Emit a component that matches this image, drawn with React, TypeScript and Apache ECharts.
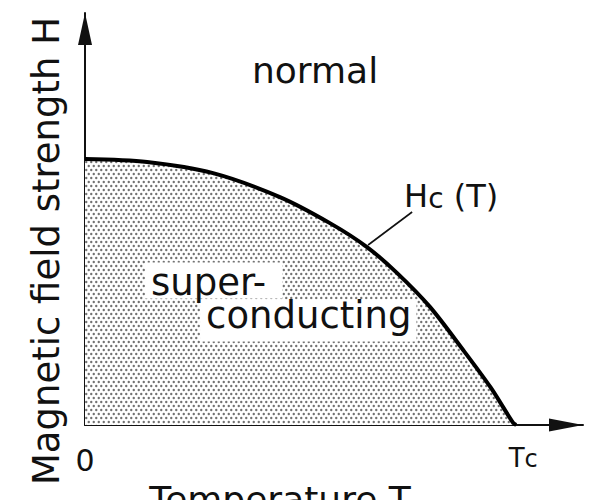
import { useEffect, useRef } from 'react';
import * as echarts from 'echarts';

// Critical-field curve H_c(T), normalised: T in units of T_c, H in units of H_c(0)
const tempT = [0, 0.144, 0.297, 0.452, 0.568, 0.654, 0.724, 0.8, 0.877, 0.94, 0.993, 1.0];
const fieldH = [1.0, 0.989, 0.947, 0.857, 0.759, 0.669, 0.571, 0.444, 0.282, 0.143, 0.008, 0];

const xTickValues = [0, 1];
const xTickLabels = ['0', 'T|c'];
const xAxisName = 'Temperature T';
const yAxisName = 'Magnetic field strength H';
const regionNormal = 'normal';
const regionSuper = ['super-', 'conducting'];
const curveName = ['H', 'c', ' (T)'];

const FONT = 'DejaVu Sans';
const INK = '#111111';

export default function App() {
  const ref = useRef<HTMLDivElement>(null);

  useEffect(() => {
    const el = ref.current;
    if (!el) return;
    const chart = echarts.init(el, null, { renderer: 'svg' });

    // stipple tile for the superconducting region (staggered dot rows)
    const TW = 5;
    const TH = 8;
    const tile = document.createElement('canvas');
    tile.width = TW;
    tile.height = TH;
    const ctx = tile.getContext('2d');
    if (ctx) {
      ctx.fillStyle = '#ffffff';
      ctx.fillRect(0, 0, TW, TH);
      ctx.fillStyle = '#727272';
      ctx.beginPath();
      ctx.arc(1.25, 2, 1.2, 0, Math.PI * 2);
      ctx.fill();
      ctx.beginPath();
      ctx.arc(3.75, 6, 1.2, 0, Math.PI * 2);
      ctx.fill();
    }

    const tcParts = xTickLabels[1].split('|');

    chart.setOption({
      animation: false,
      backgroundColor: '#ffffff',
      grid: { left: 85, right: 16, top: 13, bottom: 75, containLabel: false, outerBoundsMode: 'none' },
      xAxis: {
        type: 'value',
        min: 0,
        max: 1.155,
        interval: 1,
        name: xAxisName,
        nameLocation: 'middle',
        nameGap: 56,
        nameTextStyle: { fontFamily: FONT, fontSize: 36, color: INK, padding: [0, 108, 0, 0] },
        axisLine: {
          show: true,
          onZero: false,
          symbol: ['none', 'triangle'],
          symbolSize: [13, 34],
          symbolOffset: [0, -17],
          lineStyle: { color: INK, width: 2 },
        },
        axisTick: { show: false },
        splitLine: { show: false },
        axisLabel: {
          margin: 20,
          color: INK,
          formatter: (v: number) => {
            if (v === xTickValues[0]) return '{z|' + xTickLabels[0] + '}';
            if (v === xTickValues[1]) return '{t|' + tcParts[0] + '}{c|' + tcParts[1] + '}';
            return '';
          },
          rich: {
            z: { fontFamily: FONT, fontSize: 30, lineHeight: 30, verticalAlign: 'top', color: INK },
            t: { fontFamily: FONT, fontSize: 26, lineHeight: 26, verticalAlign: 'top', color: INK, padding: [0, 0, 0, 14] },
            c: { fontFamily: FONT, fontSize: 24, lineHeight: 24, verticalAlign: 'bottom', color: INK, padding: [8, 0, 0, 0] },
          },
        },
      },
      yAxis: {
        type: 'value',
        min: 0,
        max: 1.549,
        name: yAxisName,
        nameLocation: 'middle',
        nameGap: 20,
        nameTextStyle: { fontFamily: FONT, fontSize: 37, color: INK, padding: [0, 64, 0, 0] },
        axisLine: {
          show: true,
          onZero: false,
          symbol: ['none', 'triangle'],
          symbolSize: [14, 32],
          symbolOffset: [0, -16],
          lineStyle: { color: INK, width: 2 },
        },
        axisTick: { show: false },
        axisLabel: { show: false },
        splitLine: { show: false },
      },
      series: [
        {
          type: 'line',
          data: tempT.map((t, i) => [t, fieldH[i]]),
          symbol: 'none',
          showSymbol: false,
          smooth: 0.3,
          lineStyle: { color: '#000000', width: 4 },
          areaStyle: {
            color: { image: tile, repeat: 'repeat', imageWidth: TW, imageHeight: TH } as any,
            opacity: 1,
          },
          z: 2,
        },
      ],
    });

    const px = (t: number, h: number) => chart.convertToPixel({ gridIndex: 0 }, [t, h]) as number[];

    const pNormal = px(0.5336, 1.3327);
    const pSuper = px(0.1392, 0.6109);
    const pCond = px(0.2668, 0.4718);
    const pLabel = px(0.7401, 0.9211);
    const pLeadA = px(0.6566, 0.6767);
    const pLeadB = px(0.7587, 0.8008);

    chart.setOption({
      graphic: [
        {
          type: 'text',
          x: pNormal[0],
          y: pNormal[1],
          z: 100,
          style: {
            text: regionNormal,
            fontFamily: FONT,
            fontSize: 36,
            fill: INK,
            align: 'center',
            textAlign: 'center',
            verticalAlign: 'middle',
            textVerticalAlign: 'middle',
          },
        },
        {
          type: 'text',
          x: pCond[0],
          y: pCond[1],
          z: 100,
          style: {
            text: regionSuper[1],
            fontFamily: FONT,
            fontSize: 37,
            lineHeight: 32,
            fill: INK,
            align: 'left',
            textAlign: 'left',
            verticalAlign: 'top',
            textVerticalAlign: 'top',
            backgroundColor: '#ffffff',
            padding: [0, 5, 10, 6],
          },
        },
        {
          type: 'text',
          x: pSuper[0],
          y: pSuper[1],
          z: 101,
          style: {
            text: regionSuper[0],
            fontFamily: FONT,
            fontSize: 37,
            lineHeight: 32,
            fill: INK,
            align: 'left',
            textAlign: 'left',
            verticalAlign: 'top',
            textVerticalAlign: 'top',
            backgroundColor: '#ffffff',
            padding: [4, 16, 0, 6],
          },
        },
        {
          type: 'line',
          z: 100,
          shape: { x1: pLeadA[0], y1: pLeadA[1], x2: pLeadB[0], y2: pLeadB[1] },
          style: { stroke: INK, lineWidth: 1.6 },
        },
        {
          type: 'text',
          x: pLabel[0],
          y: pLabel[1],
          z: 100,
          style: {
            text: '{h|' + curveName[0] + '}{s|' + curveName[1] + '}{h|' + curveName[2] + '}',
            fill: INK,
            align: 'left',
            textAlign: 'left',
            verticalAlign: 'top',
            textVerticalAlign: 'top',
            rich: {
              h: { fontFamily: FONT, fontSize: 32, lineHeight: 32, verticalAlign: 'top', fill: INK },
              s: { fontFamily: FONT, fontSize: 28, lineHeight: 28, verticalAlign: 'bottom', fill: INK, padding: [14, 0, 0, 0] },
            },
          },
        },
      ],
    });

    return () => {
      chart.dispose();
    };
  }, []);

  return (
    <div
      ref={ref}
      style={{ position: 'fixed', left: 0, top: 0, width: 599, height: 500, overflow: 'hidden', background: '#ffffff' }}
    />
  );
}
